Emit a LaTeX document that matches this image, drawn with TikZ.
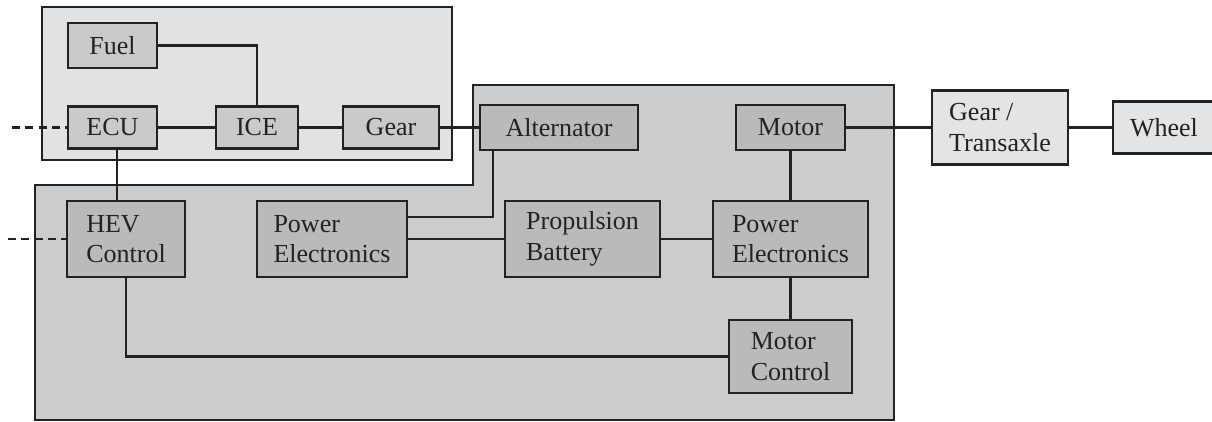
\documentclass[tikz,border=0pt]{standalone}
\usepackage{fontspec}
\setmainfont{Liberation Serif}
\usepackage{tikz}
\usetikzlibrary{positioning}
\usepackage{xcolor}
\definecolor{grpice}{HTML}{E1E2E4}
\definecolor{grpev}{HTML}{CBCCCE}
\definecolor{blkice}{HTML}{C9CACC}
\definecolor{blkev}{HTML}{B9BABC}
\definecolor{blkout}{HTML}{E3E4E6}
\definecolor{inkdark}{HTML}{222222}

\begin{document}
\begin{tikzpicture}[
  blk/.style={draw=inkdark,line width=1.6pt,fill=blkev,inner sep=0pt,align=left,
    font=\fontsize{14.8}{17.5}\selectfont,text=inkdark},
  blkice/.style={blk,fill=blkice},
  blkout/.style={blk,fill=blkout},
  wire/.style={draw=inkdark,line width=1.3pt},
  group/.style={draw=inkdark,line width=1.3pt}]
\useasboundingbox (0,0) rectangle (24.24,-8.44);
% groups
\draw[group,fill=grpice] (0.84,-0.14) rectangle (9.04,-3.20);
\draw[group,fill=grpev] (0.70,-3.70) -- (9.46,-3.70) -- (9.46,-1.70) -- (17.88,-1.70) -- (17.88,-8.40) -- (0.70,-8.40) -- cycle;
% engine side
\node[blkice,minimum width=1.78cm,minimum height=0.90cm] (fuel) at (2.25,-0.91) {Fuel};
\node[blkice,minimum width=1.78cm,minimum height=0.84cm] (ecu) at (2.25,-2.55) {ECU};
\node[blkice,minimum width=1.64cm,minimum height=0.84cm] (ice) at (5.14,-2.55) {ICE};
\node[blkice,minimum width=1.92cm,minimum height=0.84cm] (gear) at (7.82,-2.55) {Gear};
% electric side
\node[blk,minimum width=3.16cm,minimum height=0.90cm] (alt) at (11.18,-2.55) {Alternator};
\node[blk,minimum width=2.18cm,minimum height=0.90cm] (motor) at (15.81,-2.55) {Motor};
\node[blk,minimum width=2.36cm,minimum height=1.52cm] (hev) at (2.52,-4.78) {HEV\\Control};
\node[blk,minimum width=3.00cm,minimum height=1.52cm] (pel) at (6.64,-4.78) {Power\\Electronics};
\node[blk,minimum width=3.10cm,minimum height=1.52cm] (batt) at (11.65,-4.78) {Propulsion\\Battery};
\node[blk,minimum width=3.10cm,minimum height=1.52cm] (per) at (15.81,-4.78) {Power\\Electronics};
\node[blk,minimum width=2.46cm,minimum height=1.46cm] (mctl) at (15.81,-7.13) {Motor\\Control};
% driveline
\node[blkout,minimum width=2.72cm,minimum height=1.48cm] (trans) at (20.00,-2.55) {Gear /\\Transaxle};
\node[blkout,minimum width=2.04cm,minimum height=1.04cm] (wheel) at (23.28,-2.55) {Wheel};
% outside links
\coordinate (ecuin) at (0.24,-2.55);
\coordinate (hevin) at (0.16,-4.78);
\draw[wire,dash pattern=on 4.6pt off 3pt] (ecuin) -- (ecu.west);
\draw[wire,dash pattern=on 4.6pt off 3pt] (hevin) -- (hev.west);
% connections
\draw[wire] (fuel.east) -| (ice.north);
\draw[wire] (ecu) -- (ice);
\draw[wire] (ice) -- (gear);
\draw[wire] (gear) -- (alt);
\draw[wire] ([xshift=0.09cm]ecu.south) -- ([xshift=0.09cm]ecu.south |- hev.north);
\draw[wire] ([yshift=0.44cm]pel.east) -| ([xshift=-1.32cm]alt.south);
\draw[wire] (pel) -- (batt);
\draw[wire] (batt) -- (per);
\draw[wire] (motor) -- (per);
\draw[wire] (per) -- (mctl);
\draw[wire] (hev.south) |- (mctl.west);
\draw[wire] (motor) -- (trans);
\draw[wire] (trans) -- (wheel);
\end{tikzpicture}
\end{document}
